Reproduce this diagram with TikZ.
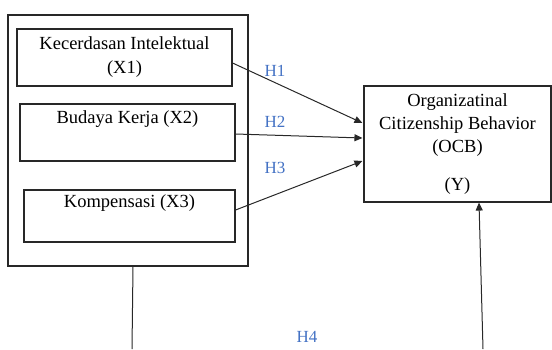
\documentclass[tikz,border=0pt]{standalone}
\usepackage{fontspec}
\setmainfont{Liberation Serif}
\usetikzlibrary{calc,arrows.meta}
\definecolor{hblue}{RGB}{68,114,196}
\definecolor{lin}{RGB}{40,40,40}
\tikzset{
  box/.style={draw=lin, line width=1.1pt, inner sep=0pt, align=center, font=\fontsize{18.5}{24}\selectfont},
  hlab/.style={text=hblue, font=\fontsize{17}{20}\selectfont, inner sep=0pt},
  conn/.style={draw=lin, line width=1pt},
  arr/.style={conn, -{Triangle[length=8pt,width=7pt]}}
}
\begin{document}
\begin{tikzpicture}[x=1pt,y=-1pt]
\useasboundingbox (0,0) rectangle (552,349);
\node[box, minimum width=240pt, minimum height=251pt] (outer) at (128,140.5) {};
\node[box, minimum width=215pt, minimum height=57pt] (x1) at (124.5,57.5) {Kecerdasan Intelektual\\(X1)};
\node[box, minimum width=215pt, minimum height=57pt] (x2) at (127.5,132.5) {Budaya Kerja (X2)\\\strut};
\node[box, minimum width=211pt, minimum height=52pt] (x3) at (129.5,216) {Kompensasi (X3)\\[-2pt]\strut};
\node[box, minimum width=187pt, minimum height=116pt, font=\fontsize{18.5}{23}\selectfont] (y) at (457.5,144) {Organizatinal\\Citizenship Behavior\\(OCB)\\[15pt](Y)};
\draw[arr] ($(x1.east)+(0,5.5)$) -- ($(y.west)+(-1,-21)$);
\draw[arr] ($(x2.east)+(0,1.5)$) -- ($(y.west)+(-1,-6)$);
\draw[arr] ($(x3.east)+(0,-6)$) -- ($(y.west)+(-1,17)$);
\node[hlab] (h1) at (275,71) {H1};
\node[hlab] (h2) at (275,122) {H2};
\node[hlab] (h3) at (275,168) {H3};
\node[hlab] (h4) at (307,337) {H4};
\coordinate (lbot) at (132,349);
\coordinate (rbot) at (483,349);
\draw[conn] ($(outer.south)+(5,0)$) -- (lbot);
\draw[arr] (rbot) -- ($(y.south)+(21.5,0)$);
\end{tikzpicture}
\end{document}
